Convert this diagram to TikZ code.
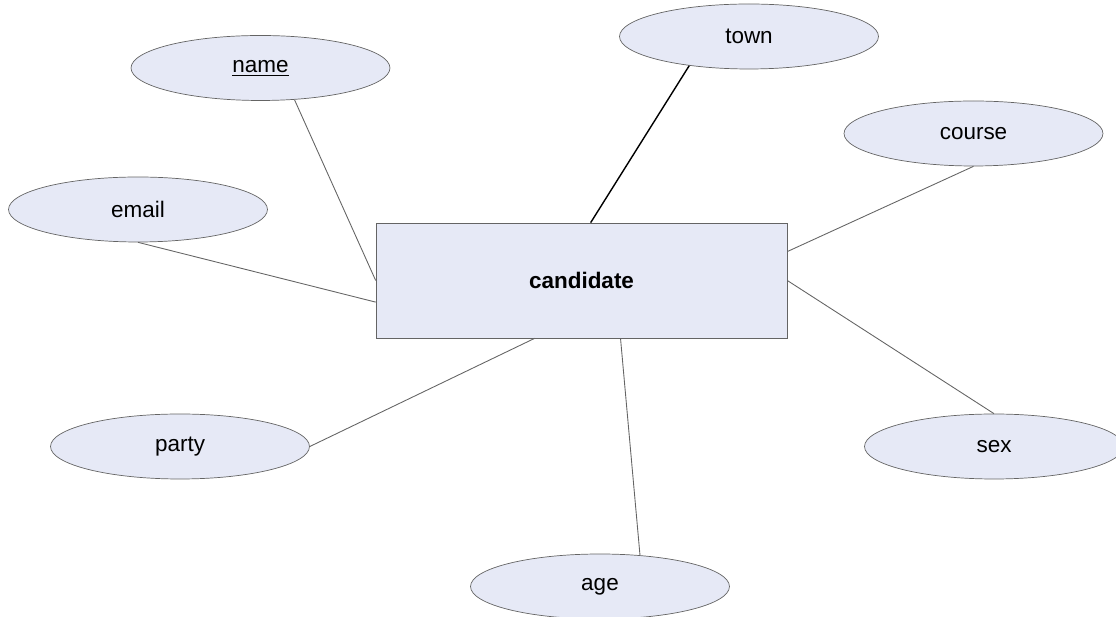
\documentclass[tikz,border=0pt]{standalone}
\usepackage{fontspec}
\setmainfont{Liberation Sans}
\usepackage{tikz}
\usetikzlibrary{shapes,positioning}
\usepackage{xcolor}
\definecolor{erfill}{RGB}{230,233,246}
\definecolor{linegray}{RGB}{100,100,100}

\begin{document}
\begin{tikzpicture}[
    x=0.02cm, y=-0.02cm,
    every node/.style={font=\fontsize{12.8}{15}\selectfont},
    attrib/.style={ellipse, draw=linegray, fill=erfill, minimum width=5.18cm, minimum height=1.3cm, inner sep=0pt},
    entity/.style={rectangle, draw=linegray, fill=erfill, minimum width=8.22cm, minimum height=2.3cm, font=\fontsize{12.8}{15}\selectfont\bfseries},
    link/.style={draw=linegray, line width=0.5pt}
]
\useasboundingbox (0,0) rectangle (1116,617);

% entity
\node[entity] (candidate) at (581.5,280.5) {candidate};

% attributes
\node[attrib] (name) at (260.5,68) {\underline{name}};
\node[attrib] (town) at (749,36.5) {town};
\node[attrib] (course) at (973.5,133.5) {course};
\node[attrib] (email) at (138,209.5) {email};
\node[attrib] (party) at (180,446.5) {party};
\node[attrib] (sex) at (994,446.5) {sex};
\node[attrib] (age) at (600,586.5) {age};

% links
\draw[link] (name.-43) -- (candidate.west);
\draw[link] (email.south) -- (candidate.186.9);
\draw[link, draw=black, line width=0.8pt] (town.-154) -- (candidate.81);
\draw[link] (course.south) -- (candidate.8);
\draw[link] (sex.north) -- (candidate.east);
\draw[link] (age.38) -- (candidate.-56);
\draw[link] (party.east) -- (candidate.-129);
\end{tikzpicture}
\end{document}
